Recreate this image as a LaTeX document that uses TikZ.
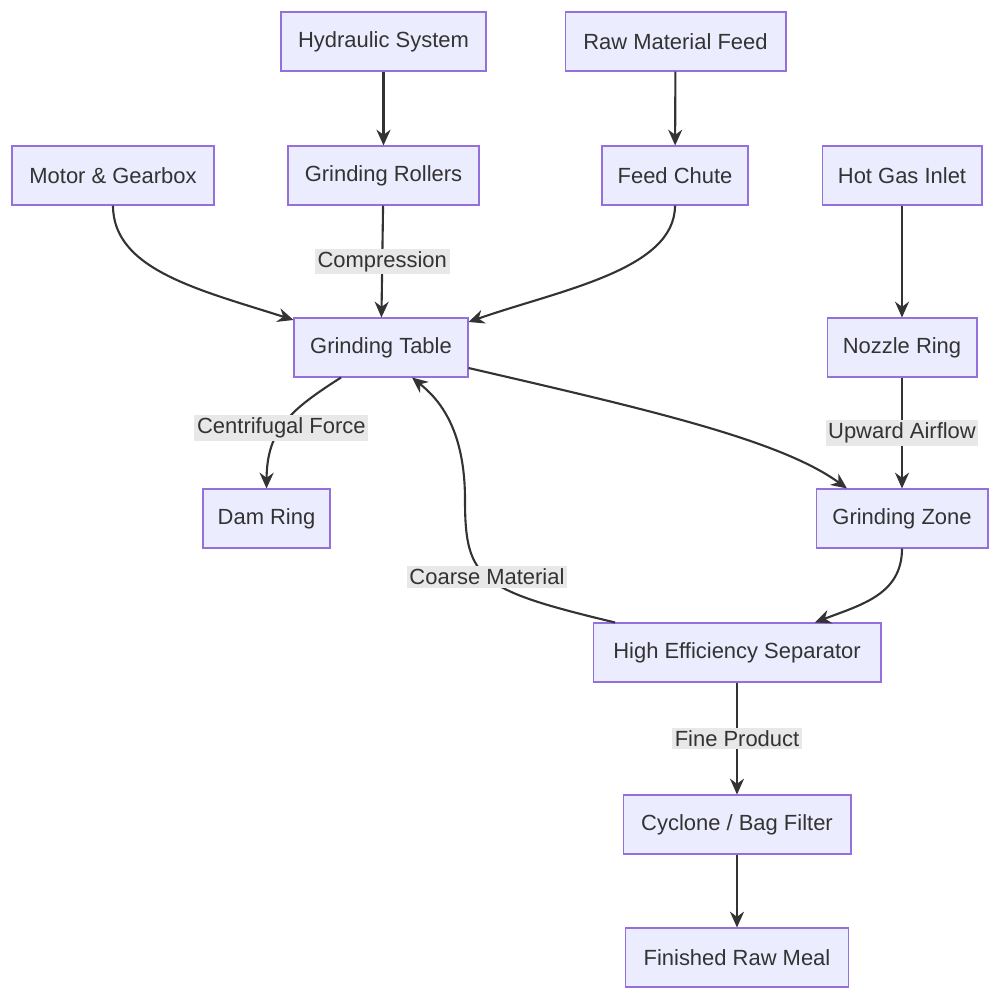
\documentclass[tikz,border=0pt]{standalone}
\usepackage{fontspec}
\setmainfont{Liberation Sans}
\usetikzlibrary{arrows.meta}
\definecolor{boxfill}{HTML}{ECECFF}
\definecolor{boxline}{HTML}{9370DB}
\definecolor{lblfill}{HTML}{E8E8E8}
\definecolor{ink}{HTML}{333333}
\tikzset{
  box/.style={draw=boxline, fill=boxfill, line width=0.6pt, minimum height=1.18cm,
    inner xsep=0.22cm, font=\fontsize{12.5}{14}\selectfont, text=ink},
  flow/.style={draw=ink, line width=1.2pt, -{Stealth[length=9pt,width=8pt]}},
  lbl/.style={fill=lblfill, inner sep=1.5pt, font=\fontsize{12.5}{14}\selectfont, text=ink}
}
\begin{document}
\begin{tikzpicture}[x=0.02cm,y=-0.02cm]
  \useasboundingbox (0,0) rectangle (999,1000);
  % top rows
  \node[box, minimum width=4.1cm] (hyd) at (383.5,41.5) {Hydraulic System};
  \node[box, minimum width=4.42cm] (raw) at (675.5,41.5) {Raw Material Feed};
  \node[box, minimum width=4.04cm] (motor) at (113,175.5) {Motor \& Gearbox};
  \node[box, minimum width=3.82cm] (roll) at (383.5,175.5) {Grinding Rollers};
  \node[box, minimum width=2.92cm] (chute) at (675,175.5) {Feed Chute};
  \node[box, minimum width=3.2cm] (gas) at (902,175.5) {Hot Gas Inlet};
  % middle
  \node[box, minimum width=3.48cm] (table) at (381,347.5) {Grinding Table};
  \node[box, minimum width=3.0cm] (nozzle) at (902,347.5) {Nozzle Ring};
  \node[box, minimum width=2.54cm] (dam) at (266.5,518.5) {Dam Ring};
  \node[box, minimum width=3.44cm] (zone) at (902,518.5) {Grinding Zone};
  % bottom
  \node[box, minimum width=5.76cm] (sep) at (737,652.5) {High Efficiency Separator};
  \node[box, minimum width=4.56cm] (cyc) at (737,824.5) {Cyclone / Bag Filter};
  \node[box, minimum width=4.46cm] (meal) at (737,957.5) {Finished Raw Meal};

  \draw[flow] (hyd) -- (roll);
  \draw[flow] (raw) -- (chute);
  \draw[flow] (gas) -- (nozzle);
  \draw[flow] (roll) -- node[lbl] {Compression} (table);
  \draw[flow] (nozzle) -- node[lbl] {Upward Airflow} (zone);
  \draw[flow] (sep) -- node[lbl] {Fine Product} (cyc);
  \draw[flow] (cyc) -- (meal);
  \draw[flow] (motor.south) .. controls (113,270) and (200,290) .. (table.west|-0,320);
  \draw[flow] (chute.south) .. controls (675,270) and (560,290) .. (table.east|-0,322);
  \draw[flow] ([xshift=-0.8cm]table.south) .. controls (290,410) and (267,430) .. node[lbl, pos=0.55] {Centrifugal Force} (dam.north);
  \draw[flow] (table.east|-0,368) .. controls (650,410) and (780,440) .. ([xshift=-1.1cm]zone.north);
  \draw[flow] (zone.south) .. controls (902,595) and (860,605) .. ([xshift=1.56cm]sep.north);
  \draw[flow] ([xshift=-2.44cm]sep.north) .. controls (480,590) and (465,580) .. node[lbl, pos=0.52] {Coarse Material} (465,500) .. controls (465,430) and (440,400) .. ([xshift=0.62cm]table.south);
\end{tikzpicture}
\end{document}
